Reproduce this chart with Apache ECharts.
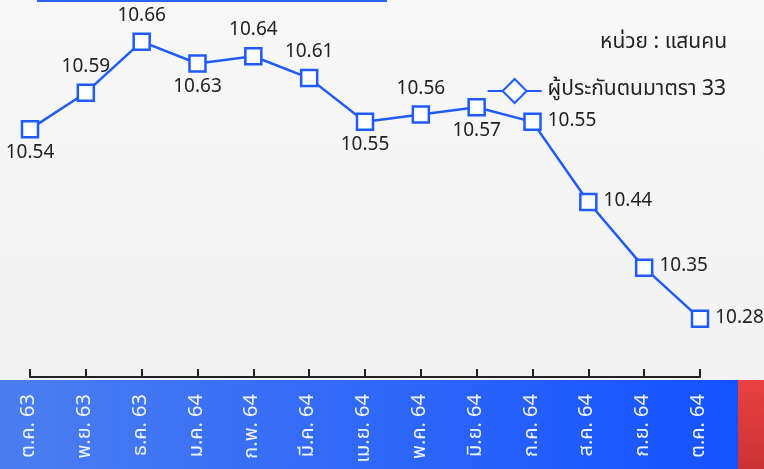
<!DOCTYPE html>
<html><head><meta charset="utf-8">
<script src="https://cdn.jsdelivr.net/npm/echarts@6/dist/echarts.min.js"></script>
<style>html,body{margin:0;padding:0;background:#f6f6f6}#c{width:764px;height:469px}</style>
</head><body><div id="c"></div>
<script>
const categories = ['ต.ค. 63','พ.ย. 63','ธ.ค. 63','ม.ค. 64','ก.พ. 64','มี.ค. 64','เม.ย. 64','พ.ค. 64','มิ.ย. 64','ก.ค. 64','ส.ค. 64','ก.ย. 64','ต.ค. 64'];
const values = [10.54,10.59,10.66,10.63,10.64,10.61,10.55,10.56,10.57,10.55,10.44,10.35,10.28];
const seriesName = 'ผู้ประกันตนมาตรา 33';
const unitText = 'หน่วย : แสนคน';

const labelPlacement = ['bottom','top','top','bottom','top','top','bottom','top','bottom','right','right','right','right'];
const FONT = '"Noto Sans Thai","Noto Sans","DejaVu Sans",sans-serif';
const BLUE = '#1f5bff';

const chart = echarts.init(document.getElementById('c'));
chart.setOption({
  backgroundColor: {type:'linear',x:0,y:0,x2:0,y2:1,colorStops:[{offset:0,color:'#f8f8f8'},{offset:1,color:'#f1f1f1'}]},
  animation: false,
  graphic: [
    {type:'rect', z:-1, shape:{x:0,y:380,width:738,height:89},
     style:{fill:{type:'linear',x:0,y:0,x2:1,y2:0,colorStops:[{offset:0,color:'#4c7ef0'},{offset:1,color:'#1452ff'}]}}},
    {type:'rect', z:-1, shape:{x:738,y:380,width:26,height:89},
     style:{fill:{type:'linear',x:0,y:0,x2:0,y2:1,colorStops:[{offset:0,color:'#ea4242'},{offset:1,color:'#c93232'}]}}},
    {type:'rect', z:-1, shape:{x:37,y:0,width:350,height:2}, style:{fill:'#2f63ff'}},
    {type:'text', right:37, top:33, style:{text:unitText, font:'21px '+FONT, fill:'#222'}}
  ],
  legend: {
    right: 33, top: 73, itemWidth: 54, itemHeight: 30, itemGap: 4,
    textStyle:{fontSize:21, color:'#222', fontFamily:FONT, padding:[0,0,0,1]},
    data:[seriesName]
  },
  grid: {left:30, right:64, top:12.5, bottom:92},
  xAxis: {
    type:'category', data:categories, boundaryGap:false,
    axisLine:{show:true, lineStyle:{color:'#222', width:2}},
    axisTick:{show:true, inside:true, length:8, lineStyle:{color:'#222', width:2}},
    axisLabel:{rotate:90, margin:17, color:'#eef3ff', fontSize:20, fontFamily:FONT}
  },
  yAxis: {type:'value', min:10.2, max:10.7, show:false, splitLine:{show:false}},
  series: [{
    name: seriesName, type:'line',
    data: values.map((v,i)=>({value:v, symbol:'rect', symbolSize:16, label:{position:labelPlacement[i]}})),
    symbol:'diamond', symbolSize:26,
    lineStyle:{color:BLUE, width:2.5},
    itemStyle:{color:'#fff', borderColor:BLUE, borderWidth:2.5},
    label:{show:true, fontSize:19, color:'#222', fontFamily:FONT, distance:6}
  }]
});
</script></body></html>
